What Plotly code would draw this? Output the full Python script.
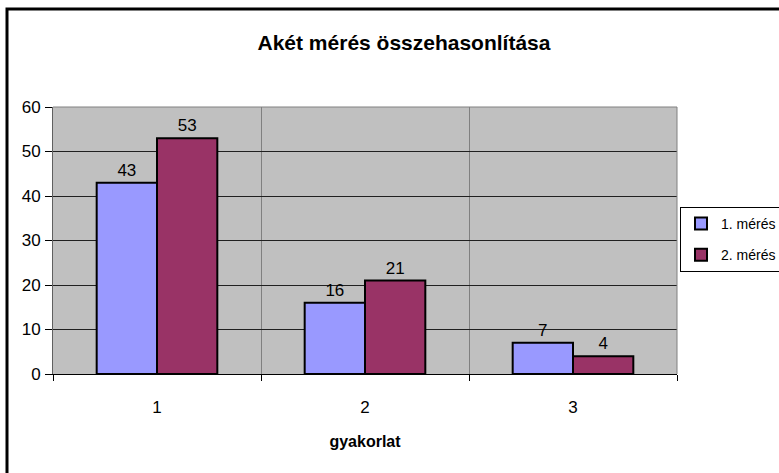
import plotly.graph_objects as go

categories = ["1", "2", "3"]
series_names = ["1. mérés", "2. mérés"]
meres1 = [43, 16, 7]
meres2 = [53, 21, 4]
colors = ["#9999FF", "#993366"]
title_text = "Akét mérés összehasonlítása"
x_title = "gyakorlat"
y_ticks = [0, 10, 20, 30, 40, 50, 60]

W, H = 779, 473
L, R, T, B = 53, 102, 107, 99

font = "Liberation Sans, Arial, sans-serif"

fig = go.Figure()
for name, vals, col in zip(series_names, [meres1, meres2], colors):
    fig.add_trace(go.Bar(
        x=categories, y=vals, name=name, legendgroup=name,
        marker=dict(color=col, line=dict(color="black", width=2)),
        text=[str(v) for v in vals], textposition="outside",
        textfont=dict(family=font, size=17, color="black"),
        cliponaxis=False,
    ))

pw = W - L - R
ph = H - T - B

fig.update_layout(
    width=W, height=H,
    margin=dict(l=L, r=R, t=T, b=B, pad=0, autoexpand=False),
    paper_bgcolor="white",
    plot_bgcolor="#C0C0C0",
    barmode="group", bargap=0.42, bargroupgap=0,
    font=dict(family=font, size=16, color="black"),
    title=dict(text=title_text, x=404 / W, xanchor="center",
               y=1 - 43 / H, yanchor="middle",
               font=dict(family=font, size=21, color="black", weight="bold")),
    showlegend=True,
    legend=dict(x=(680 - L) / pw, xanchor="left", y=(H - B - 207) / ph, yanchor="top",
                bgcolor="white", bordercolor="black", borderwidth=1,
                font=dict(family=font, size=14, color="black"),
                itemwidth=30, tracegroupgap=10),
    xaxis=dict(type="category", tickson="boundaries", ticks="outside", ticklen=6,
               tickcolor="black", showgrid=True, gridcolor="#808080", gridwidth=1,
               showline=True, linecolor="black", linewidth=1, mirror=False,
               ticklabelstandoff=18,
               title=dict(text=x_title, standoff=19,
                          font=dict(family=font, size=16, weight="bold")),
               tickfont=dict(family=font, size=17)),
    yaxis=dict(range=[0, 60], tickvals=y_ticks, ticks="outside", ticklen=7,
               tickcolor="black", showgrid=True, gridcolor="#202020", gridwidth=1,
               showline=True, linecolor="#606060", linewidth=1, zeroline=False,
               tickfont=dict(family=font, size=17), ticklabelstandoff=1),
    shapes=[
        dict(type="line", xref="paper", yref="paper", x0=0, x1=1, y0=1, y1=1,
             line=dict(color="#808080", width=1)),
        dict(type="line", xref="paper", yref="paper", x0=1, x1=1, y0=0, y1=1,
             line=dict(color="#808080", width=1)),
        dict(type="rect", xref="paper", yref="paper",
             x0=(7 - L) / pw, x1=1.5, y0=-1, y1=(H - B - 9) / ph,
             line=dict(color="black", width=3), layer="above"),
    ],
)

fig.write_html("out.html", config={"responsive": False, "displayModeBar": False},
               post_script="document.body.style.margin='0';document.body.style.overflow='hidden';")
